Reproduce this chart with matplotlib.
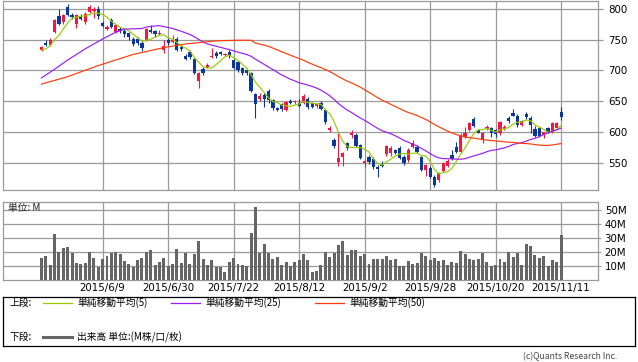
import numpy as np
import pandas as pd
import matplotlib
matplotlib.use("Agg")
import matplotlib.pyplot as plt
from matplotlib.lines import Line2D

plt.rcParams['font.family'] = ['Noto Sans CJK JP', 'DejaVu Sans']

# ---------------- data ----------------
opens = [733, 744, 741, 762, 788, 778, 803, 790, 775, 787,
         778, 795, 796, 800, 777, 767, 782, 762, 767, 764,
         761, 751, 751, 745, 749, 765, 764, 759, 733, 749,
         746, 751, 738, 723, 730, 719, 683, 702, 706, 722,
         728, 730, 725, 730, 717, 714, 704, 701, 696, 662,
         654, 660, 667, 652, 639, 646, 636, 651, 649, 647,
         647, 654, 647, 642, 647, 636, 604, 588, 552, 560,
         582, 596, 596, 579, 550, 560, 557, 544, 547, 565,
         566, 571, 575, 560, 555, 576, 576, 560, 539, 542,
         528, 523, 538, 545, 563, 576, 568, 592, 604, 621,
         604, 588, 606, 607, 603, 599, 606, 623, 631, 626,
         612, 629, 623, 605, 607, 596, 607, 600, 607, 633]
highs = [740, 749, 752, 783, 800, 792, 808, 793, 792, 792,
         794, 806, 803, 804, 780, 773, 785, 776, 770, 767,
         763, 754, 755, 747, 769, 773, 766, 765, 750, 752,
         758, 754, 741, 726, 733, 721, 698, 705, 712, 736,
         731, 732, 729, 733, 719, 716, 706, 703, 698, 664,
         664, 663, 670, 654, 641, 648, 651, 654, 653, 654,
         662, 657, 649, 648, 650, 638, 610, 590, 600, 568,
         584, 603, 598, 581, 556, 563, 560, 547, 553, 580,
         577, 573, 577, 563, 574, 587, 580, 562, 549, 545,
         530, 536, 552, 556, 571, 584, 598, 609, 617, 624,
         606, 601, 611, 609, 605, 619, 612, 627, 637, 629,
         620, 633, 626, 610, 609, 601, 609, 617, 617, 641]
lows = [731, 739, 739, 760, 774, 776, 789, 784, 768, 782,
        776, 793, 785, 783, 770, 765, 768, 760, 761, 755,
        750, 740, 742, 732, 747, 760, 755, 757, 728, 741,
        744, 731, 732, 717, 718, 694, 672, 692, 704, 720,
        721, 725, 723, 720, 702, 698, 693, 692, 665, 623,
        650, 641, 648, 636, 634, 634, 634, 645, 646, 641,
        645, 638, 639, 640, 636, 613, 601, 575, 545, 546,
        572, 591, 576, 556, 544, 549, 541, 527, 543, 562,
        562, 564, 557, 547, 552, 574, 566, 537, 529, 526,
        512, 520, 535, 543, 555, 566, 566, 590, 602, 609,
        598, 582, 603, 593, 592, 596, 604, 615, 626, 608,
        610, 621, 598, 593, 593, 590, 598, 598, 605, 620]
closes = [738, 741, 749, 782, 775, 790, 790, 787, 790, 783,
          791, 803, 799, 788, 772, 770, 770, 774, 764, 759,
          754, 743, 745, 736, 767, 762, 759, 761, 740, 744,
          749, 733, 735, 719, 722, 696, 696, 696, 709, 724,
          723, 727, 727, 723, 704, 701, 696, 696, 667, 646,
          659, 654, 652, 639, 636, 638, 649, 647, 651, 643,
          659, 641, 641, 646, 638, 617, 607, 578, 558, 566,
          575, 599, 578, 558, 553, 552, 544, 541, 545, 578,
          575, 567, 559, 550, 571, 583, 568, 539, 547, 528,
          515, 534, 550, 553, 557, 568, 596, 599, 615, 610,
          599, 599, 608, 599, 597, 616, 608, 618, 627, 612,
          618, 624, 612, 594, 594, 600, 600, 615, 615, 625]
volumes = [16.0, 17.1, 10.7, 32.9, 19.8, 22.9, 23.6, 19.5, 12.1, 11.4,
           12.4, 20.0, 15.7, 9.5, 15.0, 17.1, 19.0, 20.0, 18.6, 13.6,
           11.4, 9.5, 14.3, 15.7, 20.0, 21.4, 10.7, 12.9, 15.7, 10.0,
           11.4, 22.1, 12.1, 19.5, 11.4, 18.6, 27.9, 15.0, 10.7, 14.3,
           9.5, 9.5, 5.7, 12.9, 15.7, 11.4, 10.7, 10.0, 33.6, 52.1,
           19.3, 25.7, 19.5, 15.0, 16.4, 10.7, 12.9, 10.0, 12.9, 14.3,
           18.6, 14.3, 5.7, 6.4, 10.7, 20.0, 16.4, 19.5, 25.0, 27.9,
           17.9, 21.4, 21.4, 17.1, 18.6, 11.4, 15.0, 15.0, 15.0, 17.1,
           14.3, 15.0, 10.0, 10.0, 13.6, 11.4, 12.1, 19.5, 17.1, 14.3,
           15.7, 13.6, 14.3, 10.7, 12.9, 12.1, 20.7, 18.6, 15.0, 14.3,
           15.0, 19.5, 12.9, 10.0, 10.7, 15.0, 12.9, 20.0, 16.4, 19.3,
           10.7, 25.7, 24.3, 17.9, 15.7, 17.1, 10.0, 14.3, 12.9, 32.1]

# moving-average values before enough history is on the chart
ma5_head = [733, 735, 740, 750]
ma25_head_idx = [0, 3, 6, 10, 14, 17, 19, 23]
ma25_head = [688, 702, 717, 735, 751, 762, 767, 768]
ma50_head_idx = [0, 6, 13, 21, 28, 33, 40, 45, 48]
ma50_head = [678, 690, 708, 726, 737, 743, 748, 749, 749]

tick_idx = [14, 29, 44, 59, 74, 89, 104, 119]
tick_labels = ["2015/6/9", "2015/6/30", "2015/7/22", "2015/8/12",
               "2015/9/2", "2015/9/28", "2015/10/20", "2015/11/11"]
price_ticks = [550, 600, 650, 700, 750, 800]
vol_ticks = [10, 20, 30, 40, 50]
vol_tick_labels = ["10M", "20M", "30M", "40M", "50M"]

# ---------------- styles ----------------
RED = "#f5163f"
BLUE = "#0b3796"
C_MA5 = "#99cc00"
C_MA25 = "#9a1cf5"
C_MA50 = "#ff3a0a"
C_VOL = "#666666"
GRID = "#9a9a9a"
FS = 7.4
NUMFONT = ['DejaVu Sans']

o = np.array(opens, float)
h = np.array(highs, float)
l = np.array(lows, float)
c = np.array(closes, float)
v = np.array(volumes, float)
n = len(c)
x = np.arange(n)

cs = pd.Series(c)
ma5 = cs.rolling(5).mean().to_numpy()
ma25 = cs.rolling(25).mean().to_numpy()
ma50 = cs.rolling(50).mean().to_numpy()

fig = plt.figure(figsize=(6.38, 3.62), dpi=100)
W, H = 638.0, 362.0
left_px, right_px = 3.3, 598.3
axp = fig.add_axes([left_px / W, 1 - 190.3 / H, (right_px - left_px) / W, (190.3 - 0.7) / H])
axv = fig.add_axes([left_px / W, 1 - 280.0 / H, (right_px - left_px) / W, (280.0 - 201.5) / H])

x0_px, step_px = 41.5, 65.5 / 15
xlim = ((left_px - x0_px) / step_px, (right_px - x0_px) / step_px)

# ---- price panel ----
up = c >= o
col = np.where(up, RED, BLUE)
axp.vlines(x, l, h, colors=col, lw=0.8, zorder=3)
body_b = np.minimum(o, c)
body_h = np.maximum(np.abs(c - o), 1.0)
axp.bar(x, body_h, bottom=body_b, width=0.74, color=col, linewidth=0, zorder=3)

axp.plot(list(range(len(ma5_head))) + list(x[4:]), ma5_head + list(ma5[4:]),
         color=C_MA5, lw=0.85, zorder=4)
axp.plot(ma25_head_idx + list(x[24:]), ma25_head + list(ma25[24:]),
         color=C_MA25, lw=0.85, zorder=4)
axp.plot(ma50_head_idx + list(x[49:]), ma50_head + list(ma50[49:]),
         color=C_MA50, lw=0.85, zorder=4)

axp.set_xlim(*xlim)
axp.set_ylim(506, 813)
axp.set_yticks(price_ticks)
axp.set_xticks(tick_idx)
axp.yaxis.tick_right()
axp.tick_params(axis='y', length=3.6, width=0.9, color=GRID, pad=3.4, labelsize=FS)
axp.tick_params(axis='x', length=0, labelbottom=False)
for t in axp.get_yticklabels():
    t.set_family(NUMFONT)
axp.grid(True, color=GRID, lw=0.9, zorder=0)
for s in axp.spines.values():
    s.set_color(GRID)
    s.set_linewidth(0.9)

# ---- volume panel ----
axv.bar(x, v, width=0.68, color=C_VOL, linewidth=0, zorder=3)
axv.set_xlim(*xlim)
axv.set_ylim(0, 56)
axv.set_yticks(vol_ticks)
axv.set_yticklabels(vol_tick_labels)
axv.set_xticks(tick_idx)
axv.set_xticklabels(tick_labels)
axv.yaxis.tick_right()
axv.tick_params(axis='y', length=2.0, width=0.9, color=GRID, pad=2.6, labelsize=FS)
axv.tick_params(axis='x', length=0, pad=2.0, labelsize=FS)
for t in axv.get_yticklabels() + axv.get_xticklabels():
    t.set_family(NUMFONT)
axv.grid(True, color=GRID, lw=0.9, zorder=0)
for s in axv.spines.values():
    s.set_color(GRID)
    s.set_linewidth(0.9)
axv.text(0.008, 0.917, "単位: M", transform=axv.transAxes, fontsize=7.0,
         ha='left', va='center', color='#222222', zorder=5)

# ---- legend box ----
axl = fig.add_axes([3 / W, 1 - 346 / H, 632 / W, 49 / H])
axl.set_xlim(0, 632)
axl.set_ylim(0, 49)
axl.set_xticks([])
axl.set_yticks([])
for s in axl.spines.values():
    s.set_color('black')
    s.set_linewidth(0.9)

LFS = 7.0
y1, y2 = 43.0, 8.7
axl.text(7, y1, "上段:", fontsize=LFS, va='center', ha='left')
axl.text(7, y2, "下段:", fontsize=LFS, va='center', ha='left')
items = [(40, C_MA5, "単純移動平均(5)"),
         (168, C_MA25, "単純移動平均(25)"),
         (312, C_MA50, "単純移動平均(50)")]
for xs, cc, lab in items:
    axl.add_line(Line2D([xs, xs + 29], [y1, y1], color=cc, lw=0.9))
    axl.text(xs + 34, y1, lab, fontsize=LFS, va='center', ha='left')
axl.add_line(Line2D([40, 69], [y2, y2], color=C_VOL, lw=2.2))
axl.text(74, y2, "出来高 単位:(M株/口/枚)", fontsize=LFS, va='center', ha='left')

fig.text(617 / W, 1 - 356.5 / H, "(c)Quants Research Inc.", fontsize=6.2,
         ha='right', va='center', color='#444444')

fig.savefig("out.png", dpi=100)
